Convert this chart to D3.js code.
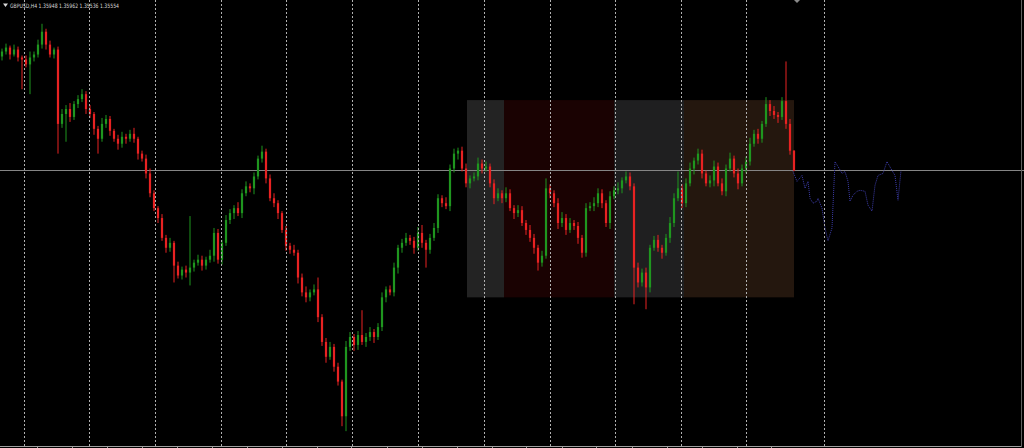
<!DOCTYPE html>
<html><head><meta charset="utf-8">
<script src="https://cdn.jsdelivr.net/npm/d3@7"></script>
<style>html,body{margin:0;padding:0;background:#000;overflow:hidden}</style>
</head><body>
<svg id="c" width="1024" height="448"></svg>
<script>
const symbolTitle = "GBPUSD,H4";
const quoteValues = ["1.35948", "1.35962", "1.35536", "1.35554"];
const firstOpen = 1.3785;
const closes = [
1.3795,1.3803,1.3789,1.3799,1.3783,1.3779,1.3769,1.3783,1.3789,1.3809,
1.3835,1.3809,1.3789,1.3799,1.3649,1.3669,1.3679,1.3663,1.3689,1.3699,
1.3709,1.3679,1.3669,1.3639,1.3619,1.3649,1.3659,1.3635,1.3619,1.3609,
1.3623,1.3619,1.3629,1.3619,1.3589,1.3579,1.3549,1.3509,1.3479,1.3459,
1.3419,1.3399,1.3409,1.3363,1.3343,1.3355,1.3349,1.3359,1.3369,1.3375,
1.3363,1.3375,1.3383,1.3429,1.3375,1.3409,1.3455,1.3469,1.3479,1.3469,
1.3509,1.3523,1.3519,1.3543,1.3579,1.3593,1.3539,1.3499,1.3489,1.3469,
1.3435,1.3403,1.3395,1.3389,1.3339,1.3309,1.3299,1.3309,1.3315,1.3259,
1.3209,1.3179,1.3199,1.3159,1.3129,1.3059,1.3199,1.3219,1.3203,1.3223,
1.3209,1.3219,1.3229,1.3219,1.3239,1.3299,1.3315,1.3309,1.3359,1.3399,
1.3409,1.3419,1.3413,1.3399,1.3429,1.3409,1.3395,1.3419,1.3439,1.3499,
1.3489,1.3483,1.3559,1.3589,1.3595,1.3559,1.3529,1.3539,1.3543,1.3569,
1.3559,1.3563,1.3529,1.3499,1.3509,1.3499,1.3509,1.3479,1.3469,1.3475,
1.3449,1.3435,1.3419,1.3399,1.3369,1.3383,1.3519,1.3509,1.3489,1.3449,
1.3459,1.3435,1.3449,1.3443,1.3419,1.3389,1.3479,1.3483,1.3489,1.3509,
1.3489,1.3449,1.3503,1.3515,1.3519,1.3535,1.3543,1.3523,1.3359,1.3329,
1.3349,1.3319,1.3399,1.3415,1.3399,1.3389,1.3419,1.3449,1.3499,1.3519,
1.3489,1.3529,1.3559,1.3575,1.3589,1.3549,1.3529,1.3535,1.3563,1.3529,
1.3513,1.3559,1.3579,1.3549,1.3529,1.3559,1.3573,1.3609,1.3629,1.3619,
1.3649,1.3689,1.3675,1.3667,1.3663,1.3695,1.3649,1.35948,1.35554
];
// upper / lower wick lengths in pips
const upperWick = [
6,8,4,10,6,4,8,12,6,10, 16,6,8,4,6,10,8,12,6,8, 10,6,8,4,6,12,8,6,4,8,
10,6,8,12,4,6,8,10,6,4, 8,6,10,4,8,6,8,104,6,10, 8,6,12,10,8,6,10,8,6,12,
8,10,6,8,6,12,6,8,10,6, 4,8,6,10,6,8,12,6,10,24, 6,8,10,6,8,4,12,10,6,8,
50,8,10,6,8,10,6,8,10,6, 8,10,6,8,12,16,6,8,10,8, 6,12,8,10,6,8,10,6,8,12,
8,10,6,8,10,6,12,8,6,10, 8,6,10,8,6,10,20,8,6,10, 12,8,10,6,8,6,10,8,12,10,
8,6,10,8,12,6,10,8,6,10, 8,10,6,8,10,6,8,12,10,34, 8,10,12,6,10,8,6,10,12,8,
10,8,12,6,10,8,10,12,8,10, 6,14,8,10,6,8,80,10,1.4
];
const lowerWick = [
8,6,10,4,8,60,6,60,8,6, 8,10,6,8,60,8,56,10,6,8, 6,10,8,12,30,6,8,10,6,12,
8,10,6,8,12,6,10,8,6,10, 6,10,8,34,6,8,10,26,8,6, 10,8,6,12,8,10,6,8,12,6,
10,6,8,12,6,8,10,6,8,12, 6,10,8,6,12,8,10,8,6,10, 8,12,6,10,8,20,30,8,12,10,
6,10,8,12,6,8,10,6,8,12, 10,6,8,12,6,10,36,8,6,10, 8,6,10,8,12,6,8,10,6,8,
10,6,8,12,6,10,8,6,12,8, 6,10,8,12,16,8,6,10,8,12, 8,10,6,8,12,10,8,6,10,8,
10,8,12,6,8,10,6,8,74,10, 8,44,10,6,8,12,6,10,8,6, 10,8,6,12,8,10,6,8,12,6,
8,10,6,8,12,6,10,8,6,10, 8,6,10,8,12,6,10,8,1.8
];
// projection (bar position, price)
const projBars = [197.75,198.75,200,200.75,201.5,202,202.75,203.75,204,205,205.75,206.5,207.5,208.25,209,210,210.75,211.5,212,212.75,213.75,214.5,215.75,216.5,217.5,218.25,219,220.25,221.25,222.5,223.25,224,224.75];
const projPrices = [1.3553,1.3533,1.3545,1.3519,1.3533,1.3499,1.3489,1.3493,1.3499,1.3479,1.3439,1.3413,1.3439,1.3573,1.3563,1.3549,1.3553,1.3533,1.3493,1.3505,1.3513,1.3515,1.3513,1.3485,1.3473,1.3525,1.3545,1.3549,1.3573,1.3555,1.3545,1.3495,1.3555];
// time zones (start bar, end bar), box price range
const zoneStart = [116.25, 125.5, 153, 170.5];
const zoneEnd   = [125.5, 153, 170.5, 198];
const zoneColor = ["#232323", "#1a0202", "#1f1f20", "#24170e"];
const zoneTop = 1.3697, zoneBottom = 1.3299;
// vertical grid (bar positions) and time ticks
const gridBars = [5.4,21.8,38.25,54.75,71.1,87.5,104,120.4,136.9,153.25,169.75,186.1,205.5];
const tickBars = [8.75,17.5,26.25,35,43.75,52.5,61.25,70,78.75,87.25,96.25,105,113.75,122.5,131,140,148.5,157.5,166.25,175,183.75,192.25];
const bidPrice = 1.35554;

const W = 1024, H = 448;
const svg = d3.select("#c");
const x = d3.scaleLinear().domain([0, 198]).range([2, 794]);
const y = d3.scaleLinear().domain([1.2995, 1.3899]).range([448, 0]);

const candles = closes.map((c, i) => {
  const o = i === 0 ? firstOpen : closes[i - 1];
  return {i, o, c, h: Math.max(o, c) + upperWick[i] * 0.0001, l: Math.min(o, c) - lowerWick[i] * 0.0001};
});

svg.append("rect").attr("width", W).attr("height", H).attr("fill", "#000");

// zones
svg.append("g").selectAll("rect").data(zoneStart).join("rect")
  .attr("x", (d) => x(d)).attr("width", (d, k) => x(zoneEnd[k]) - x(d))
  .attr("y", y(zoneTop)).attr("height", y(zoneBottom) - y(zoneTop))
  .attr("fill", (d, k) => zoneColor[k]);

// bid line
svg.append("line").attr("x1", 0).attr("x2", W)
  .attr("y1", Math.round(y(bidPrice)) + 0.5).attr("y2", Math.round(y(bidPrice)) + 0.5)
  .attr("stroke", "#858585").attr("stroke-width", 1);

// candles
const bw = 2.2;
const cg = svg.append("g");
cg.selectAll("line").data(candles).join("line")
  .attr("x1", d => x(d.i)).attr("x2", d => x(d.i))
  .attr("y1", d => y(d.h)).attr("y2", d => y(d.l))
  .attr("stroke", d => d.c >= d.o ? "#1f961f" : "#e82222").attr("stroke-width", 1);
cg.selectAll("rect").data(candles).join("rect")
  .attr("x", d => x(d.i) - bw / 2).attr("width", bw)
  .attr("y", d => y(Math.max(d.o, d.c)))
  .attr("height", d => Math.max(1, Math.abs(y(d.o) - y(d.c))))
  .attr("fill", d => d.c >= d.o ? "#1f961f" : "#e82222");

// projection
svg.append("path")
  .datum(projBars.map((b, k) => [b, projPrices[k]]))
  .attr("d", d3.line().x(d => x(d[0])).y(d => y(d[1])))
  .attr("fill", "none").attr("stroke", "#3c3ca8").attr("stroke-width", 1)
  .attr("stroke-dasharray", "1,1");

// vertical grid
svg.append("g").selectAll("line").data(gridBars).join("line")
  .attr("x1", d => Math.round(x(d)) + 0.5).attr("x2", d => Math.round(x(d)) + 0.5)
  .attr("y1", 0).attr("y2", 446)
  .attr("stroke", "#b0b0b0").attr("stroke-width", 1).attr("stroke-dasharray", "2,2");

// bottom time axis
svg.append("line").attr("x1", 0).attr("x2", 1022).attr("y1", 446.5).attr("y2", 446.5)
  .attr("stroke", "#a0a0a0");
svg.append("line").attr("x1", 1021.5).attr("x2", 1021.5).attr("y1", 0).attr("y2", 447)
  .attr("stroke", "#606060");
const axis = svg.append("g").attr("transform", "translate(0,446.5)")
  .call(d3.axisBottom(x).tickValues(tickBars).tickSize(3).tickFormat(""));
axis.select(".domain").remove();
axis.selectAll("line").attr("stroke", "#a0a0a0");

// chart shift marker
svg.append("path").attr("d", "M794,0 L800,0 L797,3 Z").attr("fill", "#8a8a8a");

// title
svg.append("path").attr("d", "M3,3.5 L8,3.5 L5.5,7 Z").attr("fill", "#d8d8d8");
svg.append("text").attr("x", 10).attr("y", 7.5)
  .attr("font-family", "DejaVu Sans, sans-serif").attr("font-size", 6)
  .attr("fill", "#d8d8d8")
  .attr("textLength", 109).attr("lengthAdjust", "spacingAndGlyphs")
  .text(symbolTitle + " " + quoteValues.join(" "));
</script>
</body></html>
